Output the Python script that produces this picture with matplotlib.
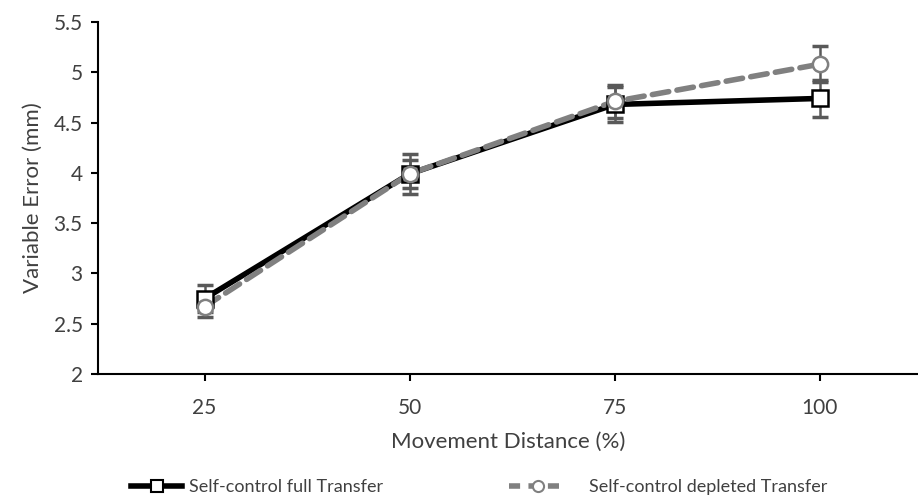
import matplotlib.pyplot as plt
from matplotlib.lines import Line2D

plt.rcParams['font.family'] = ['Lato', 'DejaVu Sans']

# ---- data ----
distances = ["25", "50", "75", "100"]
full_mean = [2.75, 3.99, 4.68, 4.74]
full_err = [0.13, 0.20, 0.17, 0.18]
depleted_mean = [2.67, 3.99, 4.71, 5.08]
depleted_err = [0.10, 0.14, 0.16, 0.18]

xs = list(range(1, len(distances) + 1))

fig = plt.figure(figsize=(9.18, 5.0), dpi=100)
ax = fig.add_axes([98 / 918, 1 - 374 / 500, 820 / 918, 352 / 500])

err_col = "#595959"
txt_col = "#404040"

# full transfer (black solid, square markers)
ax.errorbar(xs, full_mean, yerr=full_err, fmt="none", ecolor=err_col,
            elinewidth=1.8, capsize=6, capthick=2.5, zorder=2)
ax.plot(xs, full_mean, color="black", lw=4, zorder=3)

# depleted transfer (grey dashed, circle markers)
ax.errorbar(xs, depleted_mean, yerr=depleted_err, fmt="none", ecolor=err_col,
            elinewidth=1.8, capsize=6, capthick=2.5, zorder=2)
ax.plot(xs, depleted_mean, color="#808080", lw=4, ls=(0, (3, 1.5)),
        dash_capstyle="round", zorder=4)

ax.plot(xs, full_mean, ls="none", marker="s", ms=11, mfc="white",
        mec="black", mew=1.8, zorder=5)
ax.plot(xs, depleted_mean, ls="none", marker="o", ms=11, mfc="white",
        mec="#808080", mew=1.8, zorder=6)

ax.set_xlim(0.48, 4.48)
ax.set_ylim(2, 5.5)
ax.set_xticks(xs)
ax.set_xticklabels(distances)
ax.set_yticks([2, 2.5, 3, 3.5, 4, 4.5, 5, 5.5])
ax.set_yticklabels(["2", "2.5", "3", "3.5", "4", "4.5", "5", "5.5"])

for side in ("top", "right"):
    ax.spines[side].set_visible(False)
for side in ("left", "bottom"):
    ax.spines[side].set_linewidth(1.5)
    ax.spines[side].set_color("black")

ax.tick_params(axis="both", labelsize=15, width=1.5, length=5,
               colors="black", labelcolor=txt_col)
ax.tick_params(axis="x", pad=12)
ax.tick_params(axis="y", pad=6)

ax.set_xlabel("Movement Distance (%)", fontsize=16, color=txt_col, labelpad=10)
ax.set_ylabel("Variable Error (mm)", fontsize=16, color=txt_col, labelpad=8)

# legend: two entries placed along the bottom edge
full_handle = Line2D([], [], color="black", lw=4, marker="s", ms=8,
                     mfc="white", mec="black", mew=1.5)
dep_handle = Line2D([], [], color="#808080", lw=4, ls=(0, (2, 1.5)),
                    marker="o", ms=8, mfc="white", mec="#808080", mew=1.5)
leg_y = 1 - 487 / 500
fig.legend([full_handle], ["Self-control full Transfer"],
           loc="center left", bbox_to_anchor=(115 / 918, leg_y),
           frameon=False, fontsize=13, handlelength=2.8,
           handletextpad=0.4, labelcolor=txt_col)
fig.legend([dep_handle], ["Self-control depleted Transfer"],
           loc="center left", bbox_to_anchor=(493 / 918, leg_y),
           frameon=False, fontsize=13, handlelength=3.2,
           handletextpad=1.2, labelcolor=txt_col)

fig.savefig("out.png", dpi=100)
